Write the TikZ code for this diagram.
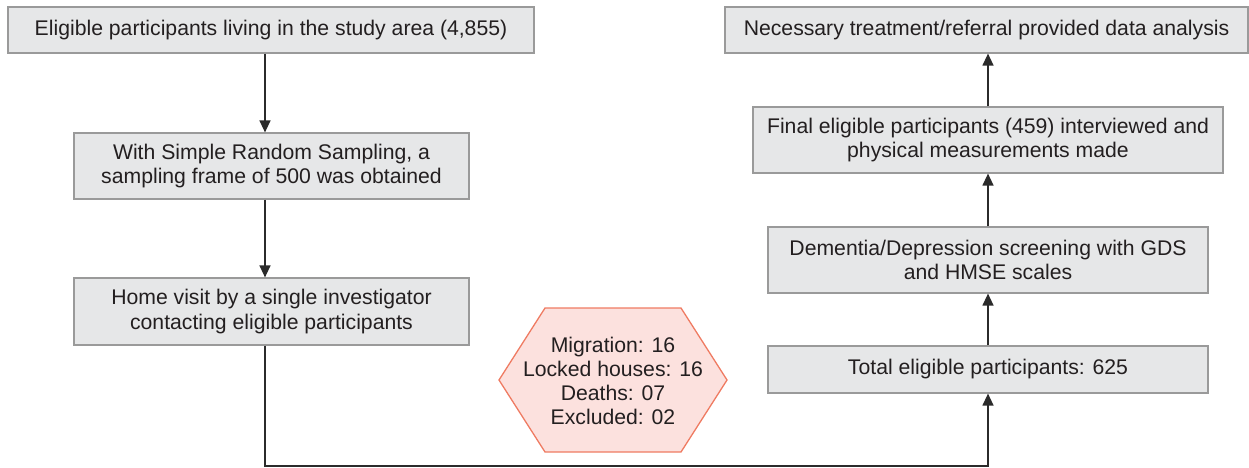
\documentclass[tikz,border=0pt]{standalone}
\usepackage{fontspec}
\setmainfont{Liberation Sans}
\usetikzlibrary{arrows.meta}
\definecolor{boxfill}{HTML}{E6E7E8}
\definecolor{boxline}{HTML}{9A9A9A}
\definecolor{hexfill}{HTML}{FCE1DE}
\definecolor{hexline}{HTML}{EF7B62}
\definecolor{txt}{HTML}{231F20}
\definecolor{arrcol}{HTML}{2B2B2B}
\tikzset{
  stepbox/.style={draw=boxline, line width=1.2pt, fill=boxfill, text=txt,
    inner sep=0pt, align=center, font=\fontsize{21.2}{24.5}\selectfont},
  arr/.style={draw=arrcol, line width=1.3pt, -{Triangle[length=12pt,width=11pt]}},
}
\begin{document}
\begin{tikzpicture}[x=1pt,y=-1pt]
\useasboundingbox (0,0) rectangle (1249,468);
% left column
\node[stepbox, minimum width=526pt, minimum height=46pt] (b1) at (271,30)
  {Eligible participants living in the study area (4,855)};
\node[stepbox, minimum width=395pt, minimum height=66pt] (b2) at (271.5,166)
  {With Simple Random Sampling, a\\sampling frame of 500 was obtained};
\node[stepbox, minimum width=395pt, minimum height=67pt] (b3) at (271.5,311.5)
  {Home visit by a single investigator\\contacting eligible participants};
% right column
\node[stepbox, minimum width=523pt, minimum height=46pt] (r1) at (986.5,30)
  {Necessary treatment/referral provided data analysis};
\node[stepbox, minimum width=470pt, minimum height=66pt] (r2) at (988,140)
  {Final eligible participants (459) interviewed and\\physical measurements made};
\node[stepbox, minimum width=440pt, minimum height=66pt] (r3) at (988,260)
  {Dementia/Depression screening with GDS\\and HMSE scales};
\node[stepbox, minimum width=440pt, minimum height=47pt] (r4) at (988,369.5)
  {Total eligible participants: 625};
% hexagon
\draw[draw=hexline, fill=hexfill, line width=1.3pt]
  (499,380) -- (545,308) -- (681,308) -- (727,380) -- (681,452) -- (545,452) -- cycle;
\node[text=txt, align=center, inner sep=0pt, font=\fontsize{21.2}{24}\selectfont] (hx) at (613,381)
  {Migration: 16\\Locked houses: 16\\Deaths: 07\\Excluded: 02};
% connectors
\coordinate (ax) at (265,0);
\coordinate (bot) at (0,466);
\draw[arr] (b1.south -| ax) -- (b2.north -| ax);
\draw[arr] (b2.south -| ax) -- (b3.north -| ax);
\draw[arr] (b3.south -| ax) -- (ax |- bot) -| (r4.south);
\draw[arr] (r4.north) -- (r3.south);
\draw[arr] (r3.north) -- (r2.south);
\draw[arr] (r2.north) -- (r2.north |- r1.south);
\end{tikzpicture}
\end{document}
